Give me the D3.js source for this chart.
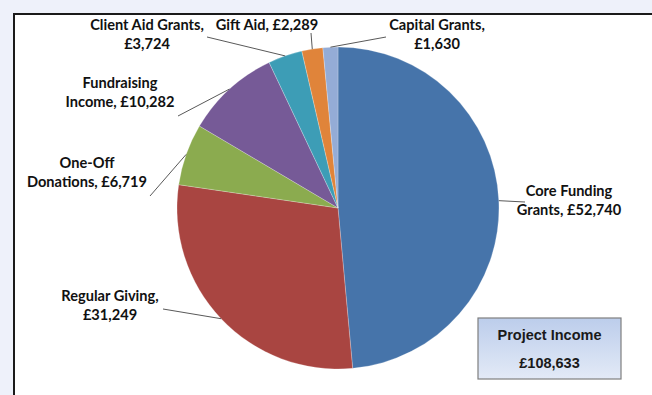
<!DOCTYPE html>
<html><head><meta charset="utf-8">
<script src="https://cdn.jsdelivr.net/npm/d3@7/dist/d3.min.js"></script>
<style>
html,body{margin:0;padding:0;background:#eef1fa;}
svg{display:block;}
</style></head>
<body>
<svg id="c" width="652" height="395"></svg>
<script>
// ---- data ----
const categories = ["Core Funding Grants","Regular Giving","One-Off Donations","Fundraising Income","Client Aid Grants","Gift Aid","Capital Grants"];
const values = [52740, 31249, 6719, 10282, 3724, 2289, 1630];
const labelLines = [
  ["Core Funding","Grants, £52,740"],
  ["Regular Giving,","£31,249"],
  ["One-Off","Donations, £6,719"],
  ["Fundraising","Income, £10,282"],
  ["Client Aid Grants,","£3,724"],
  ["Gift Aid, £2,289"],
  ["Capital Grants,","£1,630"]
];
const totalTitle = "Project Income";
const totalLabel = "£108,633";

// ---- layout / style ----
const colors = ["#4674aa","#a94541","#8bab4f","#765a97","#3d9db6","#e0843a","#94acd6"];
const W = 652, H = 395;
const cx = 338, cy = 208, R = 161;
// label block centre and leader-line end (layout only)
const labelLayout = [
  {x:569, y:200, lx:525, ly:202},
  {x:110, y:305, lx:163, ly:309},
  {x:87,  y:172, lx:150, ly:196},
  {x:120, y:92,  lx:178, ly:116},
  {x:147, y:34,  lx:207, ly:37},
  {x:267, y:25,  lx:311, ly:33},
  {x:437, y:34,  lx:386, ly:37}
];
const lineH = 19;

const svg = d3.select("#c");
const defs = svg.append("defs");
const grad = defs.append("linearGradient").attr("id","g").attr("x1",0).attr("y1",0).attr("x2",0).attr("y2",1);
grad.append("stop").attr("offset","0%").attr("stop-color","#bccdeb");
grad.append("stop").attr("offset","100%").attr("stop-color","#e3eaf7");

// frame
svg.append("rect").attr("x",14).attr("y",14).attr("width",W).attr("height",H)
  .attr("fill","#ffffff").attr("stroke","#1a1a1a").attr("stroke-width",2);

const data = categories.map((c,i)=>({cat:c, value:values[i], lines:labelLines[i], color:colors[i], lay:labelLayout[i]}));
const pie = d3.pie().value(d=>d.value).sort(null);
const arcs = pie(data);
const arc = d3.arc().innerRadius(0).outerRadius(R);

const g = svg.append("g").attr("transform",`translate(${cx},${cy})`);
g.selectAll("path").data(arcs).join("path")
  .attr("d",arc).attr("fill",d=>d.data.color)
  .attr("stroke","#ffffff").attr("stroke-width",0.4).attr("stroke-opacity",0.6);

// leader lines
svg.selectAll("line.lead").data(arcs).join("line").attr("class","lead")
  .attr("x1",d=>{const a=(d.startAngle+d.endAngle)/2; return cx+R*Math.sin(a);})
  .attr("y1",d=>{const a=(d.startAngle+d.endAngle)/2; return cy-R*Math.cos(a);})
  .attr("x2",d=>d.data.lay.lx).attr("y2",d=>d.data.lay.ly)
  .attr("stroke","#595959").attr("stroke-width",1);

// labels
const lab = svg.selectAll("text.lab").data(arcs).join("text").attr("class","lab")
  .attr("text-anchor","middle")
  .attr("font-family","Lato, 'Open Sans', sans-serif")
  .attr("font-weight","bold").attr("font-size",14.6).attr("fill","#111111");
lab.each(function(d){
  const t = d3.select(this);
  const n = d.data.lines.length;
  d.data.lines.forEach((s,k)=>{
    t.append("tspan").attr("x",d.data.lay.x)
      .attr("y",d.data.lay.y + (k-(n-1)/2)*lineH + 5).text(s);
  });
});

// total box
const bx = 478, by = 318, bw = 143, bh = 61;
svg.append("rect").attr("x",bx).attr("y",by).attr("width",bw).attr("height",bh)
  .attr("fill","url(#g)").attr("stroke","#7f7f7f").attr("stroke-width",1.2);
svg.append("text").attr("x",bx+bw/2).attr("y",by+22).attr("text-anchor","middle")
  .attr("font-family","'Liberation Sans', Arial, sans-serif").attr("font-weight","bold")
  .attr("font-size",14.5).attr("fill","#1a1a1a").text(totalTitle);
svg.append("text").attr("x",bx+bw/2).attr("y",by+50).attr("text-anchor","middle")
  .attr("font-family","'Liberation Sans', Arial, sans-serif").attr("font-weight","bold")
  .attr("font-size",14.5).attr("fill","#1a1a1a").text(totalLabel);
</script>
</body></html>
